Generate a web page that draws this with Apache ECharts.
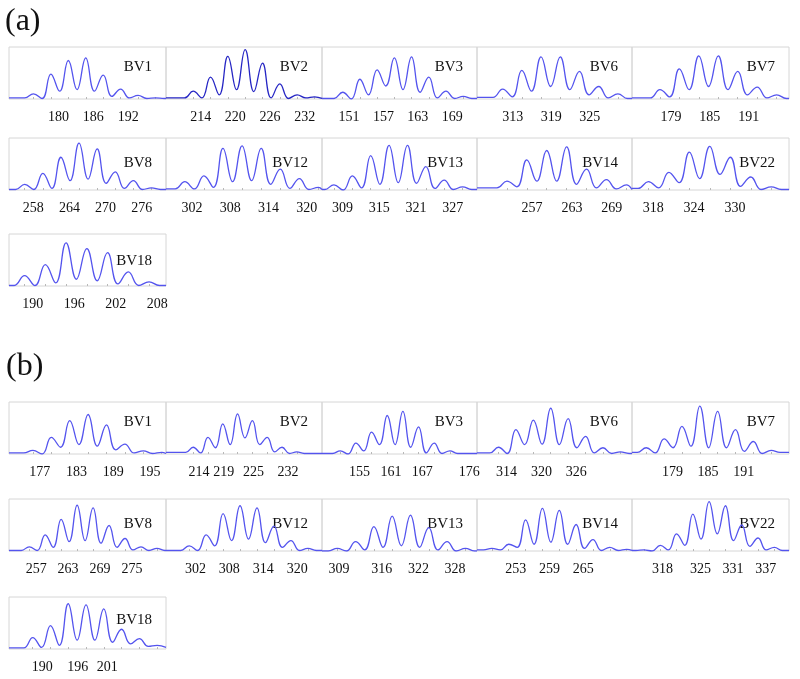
<!DOCTYPE html>
<html>
<head>
<meta charset="utf-8">
<script src="https://cdn.jsdelivr.net/npm/echarts@6/dist/echarts.min.js"></script>
<style>
  html, body { margin: 0; padding: 0; background: #fff; }
  #main { width: 800px; height: 679px; }
</style>
</head>
<body>
<div id="main"></div>
<script>
// panel names, same order in both groups
var panelNames = ['BV1', 'BV2', 'BV3', 'BV6', 'BV7', 'BV8', 'BV12', 'BV13', 'BV14', 'BV22', 'BV18'];

// ---- group (a) ----
// x axis range in nucleotides
var minA  = [171.5, 208, 146.3, 307.4, 173, 254, 297.9, 305.65, 248.7, 314.9, 186.55];
var maxA  = [198.5, 235, 173.3, 331.6, 197.2, 280, 322.4, 330.95, 272.05, 337.9, 209.25];
// position of the first peak, next peaks every 3 nt
var firstPeakA = [175.7, 212.7, 149.9, 311.4, 177.3, 256.6, 300.85, 307.6, 253.2, 317.3, 188.8];
// peak heights, % of panel height
var peaksA = [
    [10, 48, 74, 79, 46, 19, 7, 2],
    [15, 42, 82, 95, 69, 29, 8, 4],
    [13, 38, 56, 79, 81, 42, 15, 5],
    [19, 55, 81, 81, 53, 24, 10],
    [18, 58, 83, 83, 53, 23, 8],
    [11, 32, 63, 90, 79, 35, 18, 4],
    [16, 27, 80, 85, 80, 40, 22, 5],
    [10, 27, 66, 86, 86, 45, 19, 6],
    [17, 58, 76, 83, 40, 20, 10],
    [16, 34, 73, 84, 63, 25, 6],
    [20, 41, 83, 72, 64, 27, 8]
];
// valley heights: one before the first peak, then one after each peak
var valleysA = [
    [2, 1, 15, 18, 15, 5, 2, 1, 1],
    [2, 2, 8, 18, 14, 2, 1, 2, 1],
    [1, 0, 8, 25, 18, 13, 2, 1, 1],
    [3, 4, 15, 24, 18, 8, 2, 1],
    [2, 4, 18, 24, 18, 8, 2, 1],
    [1, 1, 3, 18, 21, 13, 3, 1, 1],
    [2, 2, 5, 16, 18, 11, 3, 1, 1],
    [1, 0, 4, 11, 14, 13, 3, 1, 1],
    [4, 6, 17, 17, 11, 4, 2, 1],
    [3, 4, 14, 22, 30, 7, 1, 1],
    [1, 1, 6, 13, 10, 4, 1, 1]
];
var ticksA = [
    [180, 186, 192], [214, 220, 226, 232], [151, 157, 163, 169], [313, 319, 325], [179, 185, 191],
    [258, 264, 270, 276], [302, 308, 314, 320], [309, 315, 321, 327], [257, 263, 269], [318, 324, 330],
    [190, 196, 202, 208]
];

// ---- group (b) ----
var minB  = [172, 207.3, 147.8, 308.9, 172.2, 251.9, 296.8, 306.2, 246.1, 312.4, 184.4];
var maxB  = [197.6, 238.9, 177.5, 335.6, 198.6, 281.4, 324.4, 331.6, 273.7, 341.3, 210.9];
var firstPeakB = [175.9, 212.8, 151.3, 312.6, 174.6, 255.7, 300.9, 308.7, 248.75, 314.6, 188.4];
var peaksB = [
    [7, 32, 64, 76, 56, 19, 6, 3],
    [13, 32, 58, 77, 64, 32, 13, 4],
    [6, 21, 42, 74, 82, 52, 21, 6],
    [13, 47, 65, 88, 68, 34, 12, 4],
    [12, 29, 53, 92, 82, 47, 24, 7],
    [8, 31, 61, 88, 83, 49, 24, 8, 5],
    [10, 31, 72, 87, 83, 48, 20, 5],
    [5, 18, 47, 67, 69, 45, 18, 5],
    [5, 13, 60, 82, 78, 51, 22, 7, 3],
    [2, 11, 33, 71, 95, 87, 50, 25, 7],
    [22, 45, 87, 85, 77, 38, 20, 7]
];
var valleysB = [
    [2, 0, 13, 18, 15, 8, 2, 1, 1],
    [3, 2, 12, 18, 31, 18, 4, 1, 1],
    [1, 0, 6, 18, 18, 13, 2, 1, 1],
    [2, 1, 18, 19, 18, 12, 2, 1, 1],
    [3, 2, 12, 15, 12, 12, 5, 1, 3],
    [1, 1, 7, 18, 20, 15, 7, 2, 1, 1],
    [1, 1, 10, 20, 23, 16, 7, 1, 1],
    [0, 0, 2, 7, 10, 7, 2, 0, 0],
    [2, 2, 7, 13, 17, 13, 5, 1, 1, 1],
    [1, 0, 2, 11, 23, 33, 20, 9, 2, 1],
    [2, 3, 7, 17, 17, 13, 10, 5, 3]
];
var ticksB = [
    [177, 183, 189, 195], [214, 219, 225, 232], [155, 161, 167, 176], [314, 320, 326], [179, 185, 191],
    [257, 263, 269, 275], [302, 308, 314, 320], [309, 316, 322, 328], [253, 259, 265], [318, 325, 331, 337],
    [190, 196, 201]
];

// layout
var colX = [9, 166, 322, 477, 632, 789];
var rowTopA = [47, 138, 234];
var rowTopB = [402, 499, 597];
var titleDyA = [20, 25, 27];
var titleDyB = [20, 25, 23];
var boxH = 52;
var serif = '"Liberation Serif", "DejaVu Serif", serif';

var option = {
    backgroundColor: '#fff',
    animation: false,
    grid: [],
    xAxis: [],
    yAxis: [],
    series: [],
    graphic: [
        { type: 'text', x: 5, y: 22, style: { text: '(a)', font: '32px ' + serif, fill: '#111', verticalAlign: 'middle' } },
        { type: 'text', x: 6, y: 367, style: { text: '(b)', font: '32px ' + serif, fill: '#111', verticalAlign: 'middle' } }
    ]
};

var addGroup = function(mins, maxs, firsts, peaks, valleys, ticks, rowTops, titleDy, isA) {
    panelNames.forEach(function(name, i) {
        var row = i < 5 ? 0 : (i < 10 ? 1 : 2);
        var col = i < 10 ? i % 5 : 0;
        var left = colX[col], right = colX[col + 1];
        var top = rowTops[row];
        var idx = option.grid.length;

        option.grid.push({
            left: left, top: top, width: right - left, height: boxH,
            show: true, borderColor: '#d6d6d6', borderWidth: 1
        });

        // line points: baseline at the axis ends, then valley / peak / valley ...
        var pts = [[mins[i], valleys[i][0]], [firsts[i] - 1.5, valleys[i][0]]];
        var peakPos = [];
        peaks[i].forEach(function(h, k) {
            var x = firsts[i] + 3 * k;
            peakPos.push(x);
            pts.push([x, h]);
            if (x + 1.5 < maxs[i]) pts.push([x + 1.5, valleys[i][k + 1]]);
        });
        pts.push([maxs[i], valleys[i][valleys[i].length - 1]]);

        option.xAxis.push({
            type: 'value', gridIndex: idx, min: mins[i], max: maxs[i],
            axisLine: { show: false },
            splitLine: { show: false },
            axisTick: { show: true, length: 2, inside: true, customValues: peakPos, lineStyle: { color: '#b8b8b8' } },
            axisLabel: {
                customValues: ticks[i], margin: 11,
                fontFamily: serif, fontSize: 14, color: '#111',
                formatter: function(v) { return String(v); }
            }
        });
        option.yAxis.push({ type: 'value', gridIndex: idx, min: 0, max: 100, show: false });

        option.series.push({
            type: 'line', xAxisIndex: idx, yAxisIndex: idx,
            data: pts, smooth: 0.45, showSymbol: false, silent: true,
            lineStyle: { width: 1.3, color: (isA && name === 'BV2') ? '#2626c4' : '#5454ee' }
        });

        option.graphic.push({
            type: 'text', x: right - 14, y: top + titleDy[row],
            style: { text: name, font: '15px ' + serif, fill: '#111', align: 'right', verticalAlign: 'middle' }
        });
    });
};

addGroup(minA, maxA, firstPeakA, peaksA, valleysA, ticksA, rowTopA, titleDyA, true);
addGroup(minB, maxB, firstPeakB, peaksB, valleysB, ticksB, rowTopB, titleDyB, false);

var chart = echarts.init(document.getElementById('main'), null, { renderer: 'canvas' });
chart.setOption(option);
</script>
</body>
</html>
